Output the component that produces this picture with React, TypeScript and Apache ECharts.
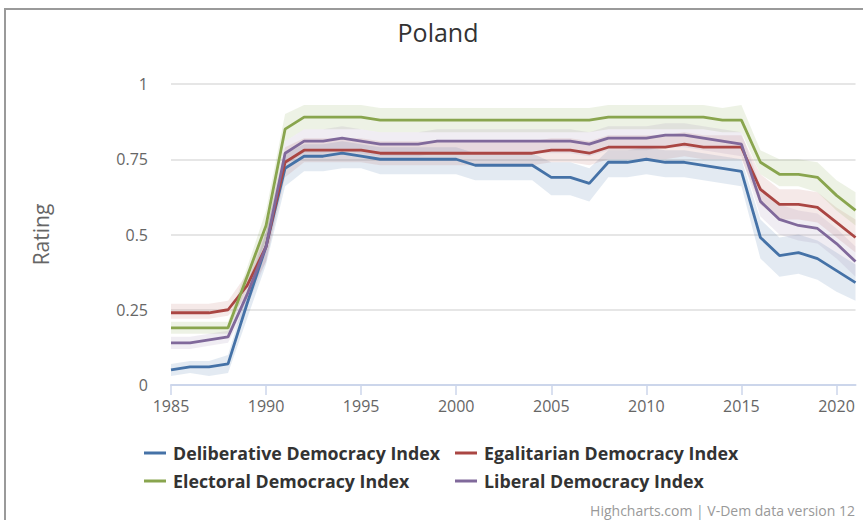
import React, { useEffect, useRef } from "react";
import * as echarts from "echarts";

const years = [1985, 1986, 1987, 1988, 1989, 1990, 1991, 1992, 1993, 1994, 1995, 1996, 1997, 1998, 1999, 2000, 2001, 2002, 2003, 2004, 2005, 2006, 2007, 2008, 2009, 2010, 2011, 2012, 2013, 2014, 2015, 2016, 2017, 2018, 2019, 2020, 2021];
const tickYears = [1985, 1990, 1995, 2000, 2005, 2010, 2015, 2020];

const deliberative = [0.05, 0.06, 0.06, 0.07, 0.27, 0.46, 0.72, 0.76, 0.76, 0.77, 0.76, 0.75, 0.75, 0.75, 0.75, 0.75, 0.73, 0.73, 0.73, 0.73, 0.69, 0.69, 0.67, 0.74, 0.74, 0.75, 0.74, 0.74, 0.73, 0.72, 0.71, 0.49, 0.43, 0.44, 0.42, 0.38, 0.34];
const deliberativeLow = [0.03, 0.04, 0.03, 0.04, 0.22, 0.40, 0.66, 0.71, 0.71, 0.72, 0.72, 0.70, 0.70, 0.70, 0.70, 0.70, 0.68, 0.68, 0.68, 0.68, 0.63, 0.63, 0.61, 0.69, 0.69, 0.70, 0.69, 0.69, 0.68, 0.67, 0.66, 0.42, 0.36, 0.37, 0.35, 0.31, 0.28];
const deliberativeHigh = [0.07, 0.08, 0.08, 0.10, 0.31, 0.51, 0.77, 0.80, 0.80, 0.81, 0.80, 0.79, 0.79, 0.79, 0.79, 0.79, 0.77, 0.77, 0.77, 0.77, 0.74, 0.74, 0.72, 0.78, 0.78, 0.79, 0.78, 0.78, 0.77, 0.76, 0.75, 0.55, 0.49, 0.50, 0.48, 0.44, 0.40];

const egalitarian = [0.24, 0.24, 0.24, 0.25, 0.33, 0.46, 0.74, 0.78, 0.78, 0.78, 0.78, 0.77, 0.77, 0.77, 0.77, 0.77, 0.77, 0.77, 0.77, 0.77, 0.78, 0.78, 0.77, 0.79, 0.79, 0.79, 0.79, 0.80, 0.79, 0.79, 0.79, 0.65, 0.60, 0.60, 0.59, 0.54, 0.49];
const egalitarianLow = [0.22, 0.22, 0.22, 0.23, 0.29, 0.41, 0.69, 0.74, 0.74, 0.74, 0.74, 0.73, 0.73, 0.73, 0.73, 0.73, 0.73, 0.73, 0.73, 0.73, 0.74, 0.74, 0.73, 0.75, 0.75, 0.75, 0.75, 0.76, 0.75, 0.75, 0.75, 0.60, 0.55, 0.55, 0.54, 0.49, 0.44];
const egalitarianHigh = [0.27, 0.27, 0.27, 0.28, 0.37, 0.51, 0.79, 0.82, 0.82, 0.82, 0.82, 0.81, 0.81, 0.81, 0.81, 0.81, 0.81, 0.81, 0.81, 0.81, 0.82, 0.82, 0.81, 0.83, 0.83, 0.83, 0.83, 0.84, 0.83, 0.83, 0.83, 0.70, 0.65, 0.65, 0.64, 0.59, 0.55];

const electoral = [0.19, 0.19, 0.19, 0.19, 0.36, 0.53, 0.85, 0.89, 0.89, 0.89, 0.89, 0.88, 0.88, 0.88, 0.88, 0.88, 0.88, 0.88, 0.88, 0.88, 0.88, 0.88, 0.88, 0.89, 0.89, 0.89, 0.89, 0.89, 0.89, 0.88, 0.88, 0.74, 0.70, 0.70, 0.69, 0.63, 0.58];
const electoralLow = [0.17, 0.17, 0.17, 0.17, 0.33, 0.48, 0.81, 0.85, 0.85, 0.85, 0.85, 0.84, 0.84, 0.84, 0.84, 0.84, 0.84, 0.84, 0.84, 0.84, 0.84, 0.84, 0.84, 0.85, 0.85, 0.85, 0.85, 0.85, 0.85, 0.84, 0.84, 0.70, 0.66, 0.66, 0.64, 0.58, 0.53];
const electoralHigh = [0.21, 0.21, 0.21, 0.21, 0.39, 0.58, 0.90, 0.93, 0.93, 0.93, 0.93, 0.92, 0.92, 0.92, 0.92, 0.92, 0.92, 0.92, 0.92, 0.92, 0.92, 0.92, 0.92, 0.93, 0.93, 0.93, 0.93, 0.93, 0.93, 0.92, 0.93, 0.78, 0.75, 0.75, 0.74, 0.68, 0.64];

const liberal = [0.14, 0.14, 0.15, 0.16, 0.30, 0.46, 0.77, 0.81, 0.81, 0.82, 0.81, 0.80, 0.80, 0.80, 0.81, 0.81, 0.81, 0.81, 0.81, 0.81, 0.81, 0.81, 0.80, 0.82, 0.82, 0.82, 0.83, 0.83, 0.82, 0.81, 0.80, 0.61, 0.55, 0.53, 0.52, 0.47, 0.41];
const liberalLow = [0.12, 0.12, 0.13, 0.14, 0.26, 0.41, 0.73, 0.77, 0.77, 0.78, 0.77, 0.76, 0.76, 0.76, 0.77, 0.77, 0.77, 0.77, 0.77, 0.77, 0.77, 0.77, 0.76, 0.78, 0.78, 0.78, 0.79, 0.79, 0.78, 0.77, 0.76, 0.56, 0.50, 0.48, 0.47, 0.42, 0.36];
const liberalHigh = [0.16, 0.16, 0.17, 0.18, 0.34, 0.51, 0.81, 0.85, 0.85, 0.86, 0.85, 0.84, 0.84, 0.84, 0.85, 0.85, 0.85, 0.85, 0.85, 0.85, 0.85, 0.85, 0.84, 0.86, 0.86, 0.86, 0.87, 0.87, 0.86, 0.85, 0.84, 0.66, 0.60, 0.58, 0.57, 0.52, 0.46];

const FONT = "'Open Sans', 'Noto Sans', sans-serif";

const defs = [
  { name: "Deliberative Democracy Index", values: deliberative, low: deliberativeLow, high: deliberativeHigh, color: "#4572A7", band: "rgba(69,114,167,0.15)" },
  { name: "Egalitarian Democracy Index", values: egalitarian, low: egalitarianLow, high: egalitarianHigh, color: "#AA4643", band: "rgba(170,70,67,0.12)" },
  { name: "Electoral Democracy Index", values: electoral, low: electoralLow, high: electoralHigh, color: "#89A54E", band: "rgba(137,165,78,0.15)" },
  { name: "Liberal Democracy Index", values: liberal, low: liberalLow, high: liberalHigh, color: "#80699B", band: "rgba(128,105,155,0.12)" },
];

export default function App() {
  const ref = useRef<HTMLDivElement>(null);
  useEffect(() => {
    document.body.style.margin = "0";
    if (!ref.current) return;
    const chart = echarts.init(ref.current, null, { renderer: "svg" });
    const bandSeries = defs.map((d) => ({
      type: "custom",
      name: d.name + " range",
      silent: true,
      z: 1,
      data: years.map((y, i) => [y, d.low[i], d.high[i]]),
      encode: { x: 0, y: [1, 2] },
      renderItem: (params: any, api: any) => {
        if (params.dataIndexInside !== 0) return null;
        const n = params.dataInsideLength;
        const top: number[][] = [];
        const bottom: number[][] = [];
        for (let i = 0; i < n; i++) {
          const x = api.value(0, i);
          bottom.push(api.coord([x, api.value(1, i)]));
          top.push(api.coord([x, api.value(2, i)]));
        }
        return {
          type: "polygon",
          shape: { points: bottom.concat(top.reverse()) },
          style: { fill: d.band, stroke: "none" },
        };
      },
    }));
    const lineSeries = defs.map((d) => ({
      type: "line",
      name: d.name,
      data: years.map((y, i) => [y, d.values[i]]),
      symbol: "none",
      lineStyle: { width: 2.8, color: d.color },
      itemStyle: { color: d.color },
      z: 3,
    }));
    const legendBase = {
      orient: "vertical",
      top: 444,
      itemWidth: 22,
      itemHeight: 3,
      itemGap: 10,
      icon: "rect",
      padding: 0,
      textStyle: { fontSize: 17.8, fontWeight: "bold", color: "#333", fontFamily: FONT, lineHeight: 18, padding: [0, 0, 0, 2] },
    };
    chart.setOption({
      animation: false,
      textStyle: { fontFamily: FONT },
      title: {
        text: "Poland",
        left: 438,
        top: 19,
        padding: 0,
        textAlign: "center",
        textStyle: { fontSize: 25, fontWeight: "normal", color: "#333", fontFamily: FONT },
      },
      legend: [
        { ...legendBase, left: 144, data: [defs[0].name, defs[2].name] },
        { ...legendBase, left: 455, data: [defs[1].name, defs[3].name] },
      ],
      grid: { left: 171, right: 7.5, top: 84, bottom: 135 },
      xAxis: {
        type: "value",
        min: 1985,
        max: 2021,
        interval: 5,
        axisLine: { show: true, lineStyle: { color: "#ccd6eb", width: 2 } },
        axisTick: { show: true, length: 10, customValues: tickYears, lineStyle: { color: "#ccd6eb", width: 1.5 } },
        axisLabel: { color: "#666", fontSize: 16, margin: 13, customValues: tickYears, fontFamily: FONT, formatter: (v: number) => String(v) },
        splitLine: { show: false },
      },
      yAxis: {
        type: "value",
        min: 0,
        max: 1,
        interval: 0.25,
        name: "Rating",
        nameLocation: "middle",
        nameGap: 120,
        nameTextStyle: { fontSize: 21, color: "#666", fontFamily: FONT },
        axisLine: { show: false },
        axisTick: { show: false },
        axisLabel: { color: "#666", fontSize: 16, margin: 23, fontFamily: FONT },
        splitLine: { lineStyle: { color: "#e6e6e6", width: 2 } },
      },
      graphic: [
        {
          type: "rect",
          shape: { x: 5, y: 9, width: 1000, height: 1000 },
          style: { fill: "none", stroke: "#9a9a9a", lineWidth: 2 },
          silent: true,
        },
        {
          type: "text",
          x: 855,
          y: 510,
          style: {
            text: "Highcharts.com | V-Dem data version 12",
            align: "right",
            verticalAlign: "middle",
            fontSize: 14,
            fill: "#999",
            fontFamily: FONT,
          },
        },
      ],
      series: [...bandSeries, ...lineSeries],
    });
    return () => chart.dispose();
  }, []);
  return <div ref={ref} style={{ width: 863, height: 520 }} />;
}
